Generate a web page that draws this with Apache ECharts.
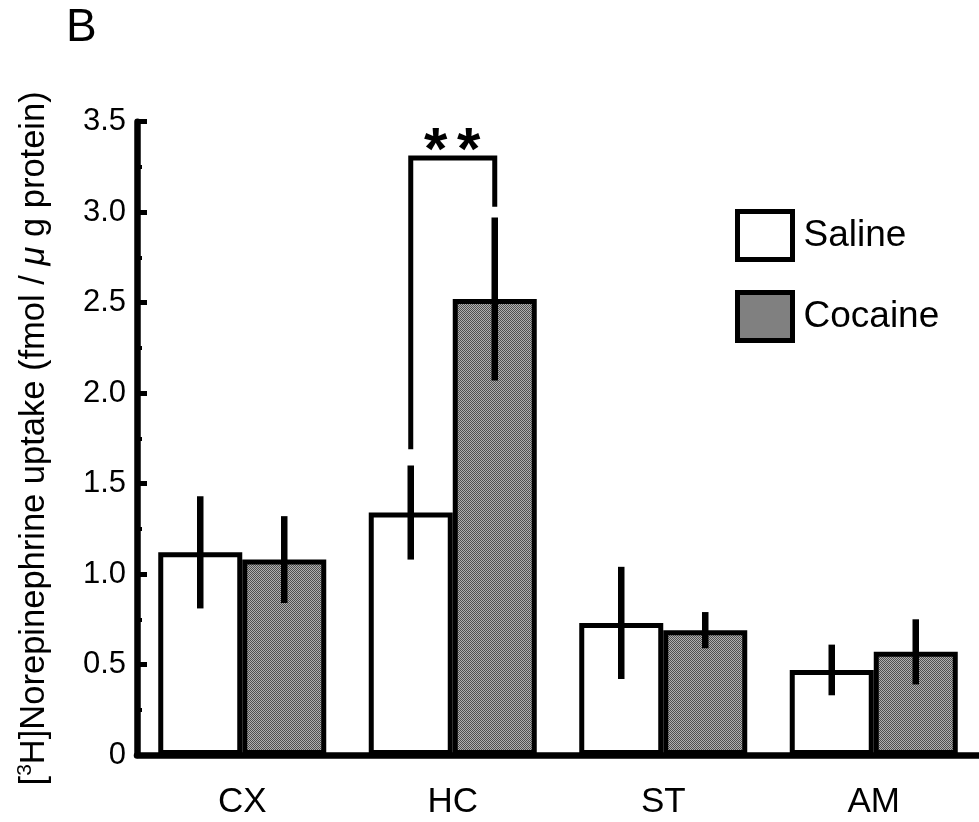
<!DOCTYPE html>
<html>
<head>
<meta charset="utf-8">
<script src="https://cdn.jsdelivr.net/npm/echarts@6/dist/echarts.min.js"></script>
<style>
html,body{margin:0;padding:0;background:#fff;}
#chart{width:979px;height:822px;}
</style>
</head>
<body>
<div id="chart"></div>
<script>
// ---- data ----
const categories = ['CX', 'HC', 'ST', 'AM'];
const salineMean = [1.12, 1.34, 0.73, 0.47];
const salineSEM = [0.31, 0.26, 0.31, 0.14];
const cocaineMean = [1.08, 2.52, 0.69, 0.57];
const cocaineSEM = [0.24, 0.45, 0.10, 0.18];
const yTickLabels = ['0', '0.5', '1.0', '1.5', '2.0', '2.5', '3.0', '3.5'];
// significance bracket: [categoryIndex, bracketTop, leftLegEnd, rightLegEnd]
const sigBracket = [[1, 3.30, 1.69, 3.03]];
const sigLabel = '**';

// ---- styles ----
const FONT = '"Liberation Sans", Arial, Helvetica, sans-serif';
const BAR_W = 84;
const BORDER = 5;

function makePattern() {
  const c = document.createElement('canvas');
  c.width = 2; c.height = 2;
  const ctx = c.getContext('2d');
  ctx.fillStyle = '#b0b0b0'; ctx.fillRect(0, 0, 2, 2);
  ctx.fillStyle = '#505050';
  ctx.fillRect(0, 0, 1, 1); ctx.fillRect(1, 1, 1, 1);
  return { image: c, repeat: 'repeat' };
}
const grayPattern = makePattern();

const chart = echarts.init(document.getElementById('chart'), null, { renderer: 'canvas' });

function errRender(offsetSign) {
  return function (params, api) {
    const i = api.value(0), m = api.value(1), e = api.value(2);
    const top = api.coord([i, m + e]);
    const bot = api.coord([i, m - e]);
    const x = top[0] + offsetSign * BAR_W / 2;
    return {
      type: 'line',
      shape: { x1: x, y1: top[1], x2: x, y2: bot[1] },
      style: { stroke: '#000', lineWidth: 6.5 }
    };
  };
}

const option = {
  animation: false,
  backgroundColor: '#fff',
  graphic: [{
    type: 'text', left: 66, top: 5,
    style: { text: 'B', font: '46px ' + FONT, fill: '#000' }
  }],
  legend: {
    orient: 'vertical',
    left: 730, top: 204,
    itemWidth: 55, itemHeight: 48,
    itemGap: 28,
    icon: 'rect',
    textStyle: { fontFamily: FONT, fontSize: 37, color: '#000', padding: [0, 0, 0, 6] },
    data: [
      { name: 'Saline', itemStyle: { color: '#fff', borderColor: '#000', borderWidth: BORDER } },
      { name: 'Cocaine', itemStyle: { color: grayPattern, borderColor: '#000', borderWidth: BORDER } }
    ]
  },
  grid: { left: 137, top: 121.7, width: 848, height: 633.3, containLabel: false },
  xAxis: {
    type: 'category',
    data: categories,
    axisLine: { show: true, lineStyle: { color: '#000', width: 6.5 } },
    axisTick: { show: false },
    axisLabel: { color: '#000', fontFamily: FONT, fontSize: 35, margin: 30 },
    splitLine: { show: false }
  },
  yAxis: {
    type: 'value',
    min: 0, max: 3.5, interval: 0.5,
    name: '[{sup|3}H]Norepinephrine uptake (fmol / {mu|μ} g protein)',
    nameLocation: 'middle',
    nameGap: 84,
    nameRotate: 90,
    nameTextStyle: {
      color: '#000', fontFamily: FONT, fontSize: 34.5, lineHeight: 38,
      rich: {
        sup: { fontFamily: FONT, fontSize: 21, lineHeight: 18, verticalAlign: 'top', color: '#000' },
        mu: { fontFamily: FONT, fontSize: 34.5, fontStyle: 'italic', lineHeight: 38, color: '#000' }
      }
    },
    axisLine: { show: true, lineStyle: { color: '#000', width: 6.5 } },
    axisTick: { show: true, inside: true, length: 10, lineStyle: { color: '#000', width: 5 } },
    minorTick: { show: true, splitNumber: 2, length: 5, lineStyle: { color: '#000', width: 4 } },
    axisLabel: {
      color: '#000', fontFamily: FONT, fontSize: 31, margin: 11,
      formatter: function (v) { return yTickLabels[Math.round(v / 0.5)]; }
    },
    splitLine: { show: false }
  },
  series: [
    {
      name: 'Saline', type: 'bar', data: salineMean,
      barWidth: BAR_W, barGap: '0%',
      itemStyle: { color: '#fff', borderColor: '#000', borderWidth: BORDER },
      z: 2
    },
    {
      name: 'Cocaine', type: 'bar', data: cocaineMean,
      barWidth: BAR_W, barGap: '0%',
      itemStyle: { color: grayPattern, borderColor: '#000', borderWidth: BORDER },
      z: 2
    },
    {
      type: 'custom', name: 'salineErr', z: 5,
      data: salineMean.map((m, i) => [i, m, salineSEM[i]]),
      renderItem: errRender(-1), silent: true
    },
    {
      type: 'custom', name: 'cocaineErr', z: 5,
      data: cocaineMean.map((m, i) => [i, m, cocaineSEM[i]]),
      renderItem: errRender(1), silent: true
    },
    {
      type: 'custom', name: 'sig', z: 6, silent: true,
      data: sigBracket,
      renderItem: function (params, api) {
        const i = api.value(0);
        const topY = api.coord([i, api.value(1)])[1];
        const lY = api.coord([i, api.value(2)])[1];
        const rY = api.coord([i, api.value(3)])[1];
        const cx = api.coord([i, 0])[0];
        const xl = cx - BAR_W / 2, xr = cx + BAR_W / 2;
        return {
          type: 'group',
          children: [
            {
              type: 'polyline',
              shape: { points: [[xl, lY], [xl, topY], [xr, topY], [xr, rY]] },
              style: { stroke: '#000', lineWidth: 5, fill: null, lineJoin: 'miter' }
            },
            {
              type: 'text',
              x: cx - 17, y: topY - 5,
              style: { text: sigLabel[0], font: 'bold 60px ' + FONT, fill: '#000', align: 'center', verticalAlign: 'middle' }
            },
            {
              type: 'text',
              x: cx + 16, y: topY - 5,
              style: { text: sigLabel[1], font: 'bold 60px ' + FONT, fill: '#000', align: 'center', verticalAlign: 'middle' }
            }
          ]
        };
      }
    }
  ]
};
chart.setOption(option);
</script>
</body>
</html>
